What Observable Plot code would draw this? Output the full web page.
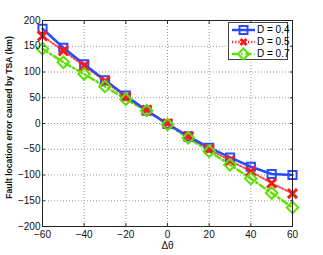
<!DOCTYPE html>
<html><head><meta charset="utf-8">
<script src="https://cdn.jsdelivr.net/npm/d3@7"></script>
<script src="https://cdn.jsdelivr.net/npm/@observablehq/plot@0.6"></script>
<style>
body{margin:0;background:#fff;font-family:"Liberation Sans",Arial,sans-serif;}
#wrap{position:relative;width:323px;height:255px;}
#legend{position:absolute;left:228px;top:22px;width:60px;height:38px;border:1px solid #444;background:#fff;font-size:10px;white-space:nowrap;box-sizing:border-box;padding-top:0.5px;}
.row{display:flex;align-items:center;height:12px;}
.row svg{margin-left:3px;margin-right:2px;flex:none;}
</style></head><body>
<div id="wrap"></div>
<script>
const dtheta = [-60,-50,-40,-30,-20,-10,0,10,20,30,40,50,60];
const d04 = [184,147,115,84,54,25,-1,-25,-47,-66,-84,-98,-100];
const d05 = [170,141,112,82,51,26,0,-25,-50,-72,-93,-116,-136];
const d07 = [145,119,96,72,47,25,-2,-28,-54,-80,-107,-135,-163];
const seriesNames = ["D = 0.4","D = 0.5","D = 0.7"];
const xTicks = [-60,-40,-20,0,20,40,60];
const yTicks = [-200,-150,-100,-50,0,50,100,150,200];

const colors = ["#2a4bff","#ff1a1a","#5fe000"];
const rows = (vals) => dtheta.map((x,i)=>({x, y: vals[i]}));
const s04 = rows(d04), s05 = rows(d05), s07 = rows(d07);

const chart = Plot.plot({
  width: 323, height: 255,
  marginLeft: 42, marginRight: 31, marginTop: 20, marginBottom: 29,
  style: {fontFamily: '"Liberation Sans", Arial, sans-serif', fontSize: "10px", background: "#fff"},
  x: {type: "linear", domain: [-60,60]},
  y: {type: "linear", domain: [-200,200]},
  marks: [
    Plot.gridX(xTicks, {stroke: "#999", strokeOpacity: 1, strokeDasharray: "1,2"}),
    Plot.gridY(yTicks, {stroke: "#999", strokeOpacity: 1, strokeDasharray: "1,2"}),
    Plot.line(s07, {x: "x", y: "y", stroke: colors[2], strokeWidth: 2.5, strokeDasharray: "6,3,1.5,3"}),
    Plot.line(s05, {x: "x", y: "y", stroke: colors[1], strokeWidth: 2, strokeOpacity: 0.8, strokeDasharray: "1.2,2"}),
    Plot.line(s04, {x: "x", y: "y", stroke: colors[0], strokeWidth: 2.5}),
    Plot.dot(s04, {x: "x", y: "y", symbol: "square", r: 4.6, stroke: colors[0], strokeWidth: 2, fill: "none"}),
    Plot.dot(s05, {x: "x", y: "y", symbol: "times", r: 4.2, stroke: colors[1], strokeWidth: 3}),
    Plot.dot(s07, {x: "x", y: "y", symbol: "diamond2", r: 5.2, stroke: colors[2], strokeWidth: 2, fill: "none"}),
    Plot.axisX(xTicks, {anchor: "bottom", tickSize: 0, tickPadding: 4, label: null, fontSize: 10, fill: "#111"}),
    Plot.axisY(yTicks, {anchor: "left", tickSize: 0, tickPadding: 2, label: null, fontSize: 10, fill: "#111"}),
    Plot.axisX(xTicks, {anchor: "bottom", tickSize: -3, tickFormat: () => "", label: null, stroke: "#333"}),
    Plot.axisX(xTicks, {anchor: "top", tickSize: -3, tickFormat: () => "", label: null, stroke: "#333"}),
    Plot.axisY(yTicks, {anchor: "left", tickSize: -3, tickFormat: () => "", label: null, stroke: "#333"}),
    Plot.axisY(yTicks, {anchor: "right", tickSize: -3, tickFormat: () => "", label: null, stroke: "#333"}),
    Plot.frame({stroke: "#222", strokeWidth: 1}),
    Plot.text(["Fault location error caused by TSA (km)"], {frameAnchor: "left", textAnchor: "middle", lineAnchor: "middle", dx: -33.5, dy: -6, rotate: -90, fontWeight: "bold", fontSize: 8.6, fill: "#111"}),
    Plot.text(["Δθ"], {frameAnchor: "bottom", textAnchor: "middle", lineAnchor: "middle", dy: 19, fontSize: 10, fill: "#111"})
  ]
});
document.getElementById("wrap").appendChild(chart);

const legend = document.createElement("div");
legend.id = "legend";
const dashes = ["", "1.2,2", "6,3,1.5,3"];
const syms = [
  '<rect x="7.5" y="2" width="8" height="8" fill="none" stroke-width="2"/>',
  '<path d="M8.5,3 L14.5,9 M14.5,3 L8.5,9" stroke-width="3"/>',
  '<path d="M11.5,0.5 L17,6 L11.5,11.5 L6,6 Z" fill="none" stroke-width="2"/>'
];
seriesNames.forEach((name,i)=>{
  const r = document.createElement("div");
  r.className = "row";
  r.innerHTML = `<svg width="23" height="12" style="overflow:visible"><g stroke="${colors[i]}"><line x1="0" x2="23" y1="6" y2="6" stroke-width="2.5" ${dashes[i]?`stroke-dasharray="${dashes[i]}"`:""}/>${syms[i]}</g></svg><span>${name}</span>`;
  legend.appendChild(r);
});
document.getElementById("wrap").appendChild(legend);
</script>
</body></html>
